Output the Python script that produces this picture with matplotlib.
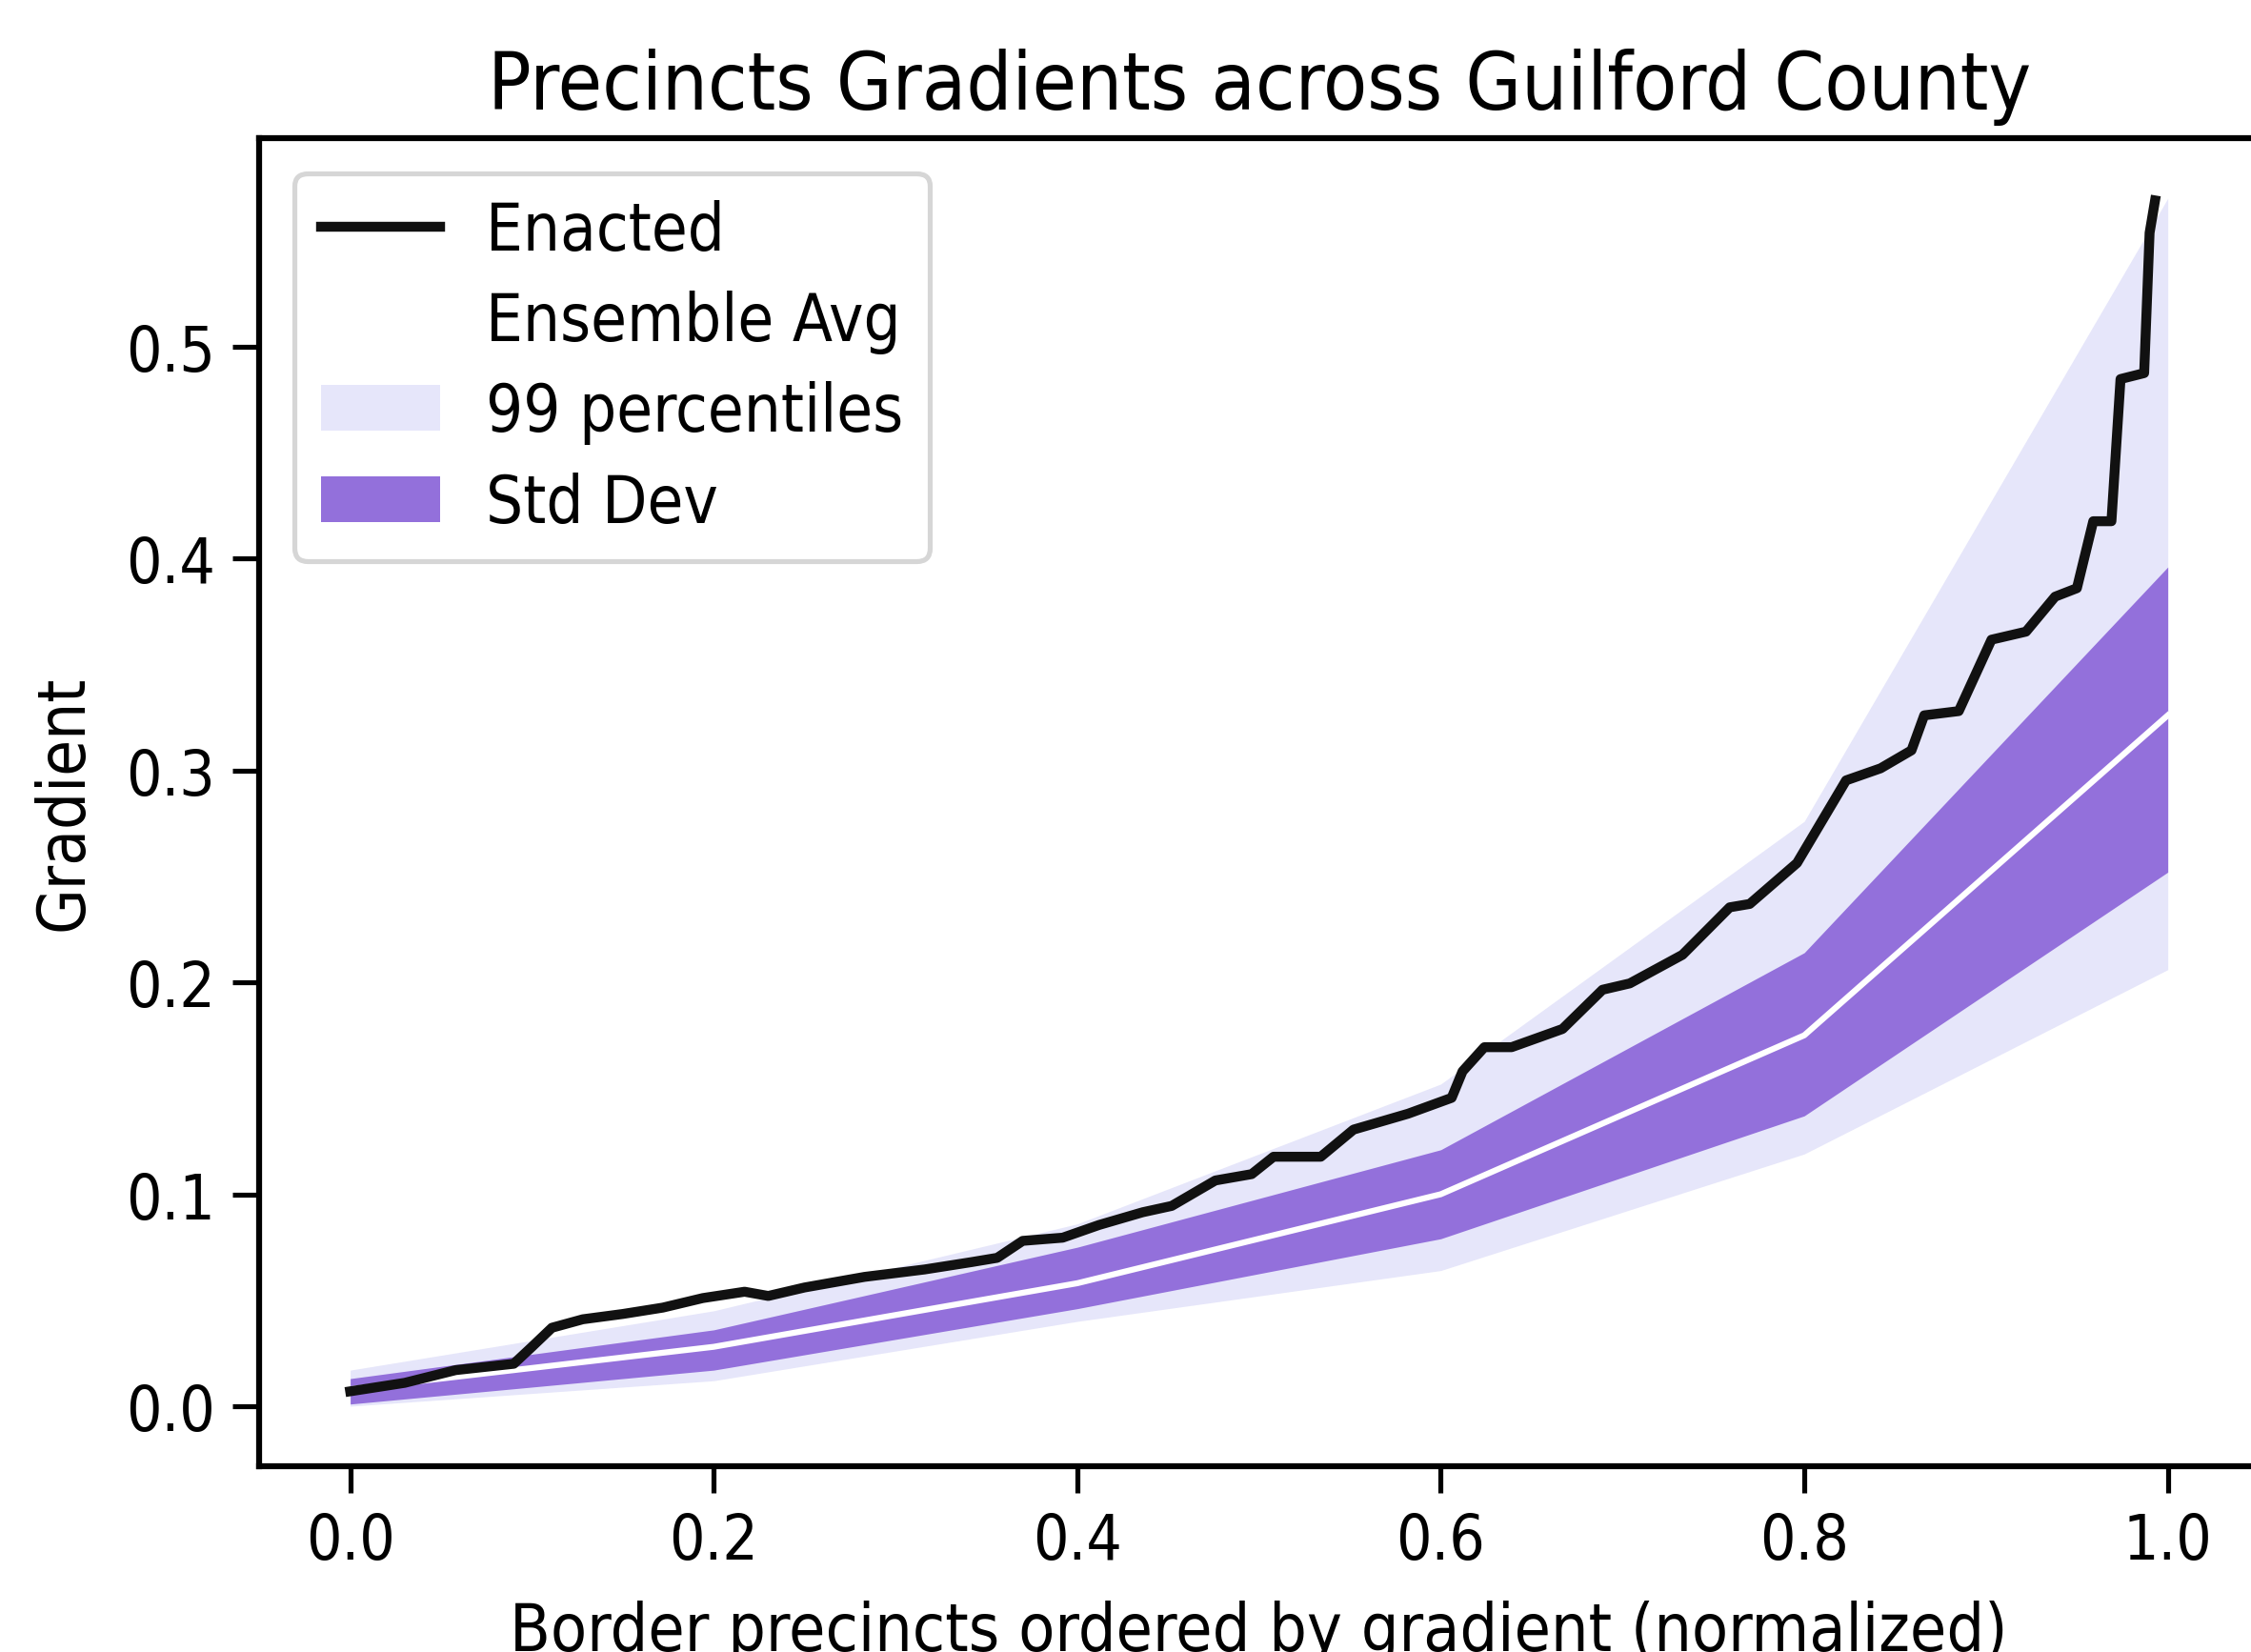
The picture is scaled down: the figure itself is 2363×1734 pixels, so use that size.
import os
import matplotlib
matplotlib.use("Agg")
import matplotlib.pyplot as plt
from matplotlib import font_manager as fm

# ensemble summary at the quantile positions
x_q = [0.0, 0.2, 0.4, 0.6, 0.8, 1.0]
avg = [0.008, 0.028, 0.058, 0.100, 0.175, 0.326]
std_lo = [0.001, 0.017, 0.046, 0.079, 0.137, 0.252]
std_hi = [0.013, 0.036, 0.075, 0.121, 0.214, 0.396]
p99_lo = [0.0, 0.012, 0.040, 0.064, 0.119, 0.206]
p99_hi = [0.017, 0.045, 0.086, 0.152, 0.276, 0.570]

# enacted plan, border precincts sorted by gradient
enacted_x = [0.0, 0.03, 0.058, 0.09, 0.1, 0.111, 0.128, 0.15, 0.172, 0.194,
             0.217, 0.23, 0.25, 0.283, 0.316, 0.342, 0.356, 0.37, 0.392, 0.412,
             0.436, 0.452, 0.476, 0.496, 0.508, 0.534, 0.552, 0.582, 0.606, 0.612,
             0.624, 0.639, 0.667, 0.689, 0.704, 0.733, 0.759, 0.770, 0.796, 0.823,
             0.842, 0.859, 0.866, 0.885, 0.903, 0.922, 0.938, 0.950, 0.959, 0.969,
             0.974, 0.987, 0.990, 0.993]
enacted_y = [0.007, 0.011, 0.017, 0.020, 0.028, 0.037, 0.041, 0.0435, 0.0465, 0.051,
             0.054, 0.052, 0.056, 0.061, 0.0645, 0.068, 0.070, 0.078, 0.0795, 0.0855,
             0.0915, 0.0945, 0.1065, 0.1095, 0.1177, 0.1177, 0.1305, 0.138, 0.1455, 0.158,
             0.1694, 0.1694, 0.178, 0.1965, 0.1995, 0.213, 0.2354, 0.237, 0.2563, 0.2953,
             0.301, 0.3095, 0.326, 0.328, 0.3617, 0.3655, 0.382, 0.386, 0.4176, 0.4176,
             0.4847, 0.4875, 0.5537, 0.569]

# the source text looks tall and narrow: use DejaVu Sans Condensed if present
k = 1.0
for f in fm.fontManager.ttflist:
    base = os.path.basename(f.fname).lower()
    if base == 'dejavusanscondensed.ttf':
        plt.rcParams['font.family'] = [f.name, 'DejaVu Sans']
        plt.rcParams['font.stretch'] = f.stretch
        k = 1.1
        break

dpi = 374
fig = plt.figure(figsize=(2363 / dpi, 1735 / dpi), dpi=dpi)
ax = fig.add_axes([0.1152, 0.1122, 0.8882, 0.8038])

pband = ax.fill_between(x_q, p99_lo, p99_hi, color='lavender', linewidth=0,
                        label='99 percentiles')
sband = ax.fill_between(x_q, std_lo, std_hi, color='mediumpurple', linewidth=0,
                        label='Std Dev')
l_avg, = ax.plot(x_q, avg, color='white', linewidth=1.2, label='Ensemble Avg')
l_en, = ax.plot(enacted_x, enacted_y, color='#111111', linewidth=2.0, label='Enacted')

ax.set_title('Precincts Gradients across Guilford County', fontsize=14.5 * k * 1.017)
ax.set_xlabel('Border precincts ordered by gradient (normalized)',
              fontsize=12 * k * 1.015, labelpad=6.5 - 8 * (k - 1))
ax.set_ylabel('Gradient', fontsize=12 * k, labelpad=6)
ax.tick_params(labelsize=11.5 * k, length=5.4, width=1)
for s in ax.spines.values():
    s.set_linewidth(1.2)

if k > 1:
    leg_kw = dict(labelspacing=0.41, handlelength=1.83, handletextpad=0.7,
                  borderaxespad=0.54)
else:
    leg_kw = dict(labelspacing=0.6, borderaxespad=0.62)
ax.legend(handles=[l_en, l_avg, pband, sband], loc='upper left', fontsize=12 * k,
          **leg_kw)

fig.savefig('out.png', dpi=dpi)
